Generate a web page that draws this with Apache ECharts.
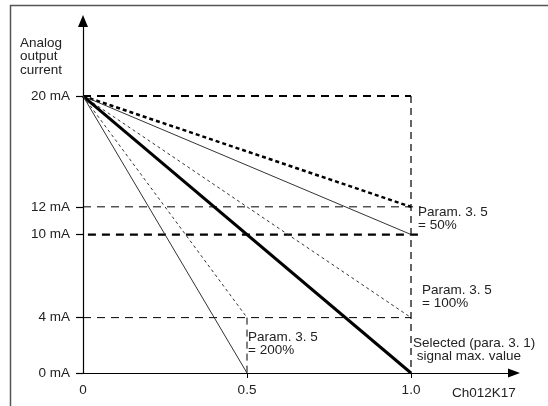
<!DOCTYPE html>
<html>
<head>
<meta charset="utf-8">
<script src="https://cdn.jsdelivr.net/npm/echarts@6/dist/echarts.min.js"></script>
<style>
  html, body { margin: 0; padding: 0; background: #fff; }
  #chart { width: 548px; height: 406px; }
</style>
</head>
<body>
<div id="chart"></div>
<script>
// tick values
var yTicks = [0, 4, 10, 12, 20];
var xTicks = [0, 0.5, 1.0];

// scaling lines, all starting at 20 mA
var p50Offset = [[0, 20], [1.0, 12]];
var p50 = [[0, 20], [1.0, 10]];
var p100Offset = [[0, 20], [1.0, 4]];
var p100 = [[0, 20], [1.0, 0]];
var p200Offset = [[0, 20], [0.5, 4]];
var p200 = [[0, 20], [0.5, 0]];

// guide lines
var guide20 = [[0, 20], [1.0, 20]];
var guideMax = [[1.0, 20], [1.0, 0]];
var guide12 = [[0, 12], [1.03, 12]];
var guide10 = [[0.015, 10], [1.03, 10]];
var guide4 = [[0, 4], [1.0, 4]];
var guideHalf = [[0.5, 4], [0.5, 0]];

var font = 'Liberation Sans, Arial, sans-serif';

function line(data, width, type, color) {
    return {
        type: 'line',
        data: data,
        symbol: 'none',
        silent: true,
        animation: false,
        clip: false,
        lineStyle: { width: width, type: type, color: color || '#000' }
    };
}

function label(x, y, text) {
    return {
        type: 'text',
        left: x,
        top: y,
        style: { text: text, font: '13.5px ' + font, fill: '#222', lineHeight: 13.5 }
    };
}

var chart = echarts.init(document.getElementById('chart'));
chart.setOption({
    backgroundColor: '#fff',
    animation: false,
    grid: { left: 83, right: 34, top: 21, bottom: 33 },
    xAxis: {
        type: 'value',
        min: 0,
        max: 1.314,
        axisLine: {
            show: true,
            symbol: ['none', 'triangle'],
            symbolSize: [9, 12],
            lineStyle: { color: '#000', width: 1.2 }
        },
        axisTick: {
            show: true,
            customValues: [0.5, 1.0],
            length: 5,
            lineStyle: { color: '#000' }
        },
        axisLabel: {
            customValues: xTicks,
            margin: 10,
            fontFamily: font,
            fontSize: 13.5,
            color: '#222',
            formatter: function (v) { return v === 1 ? '1.0' : String(v); }
        },
        splitLine: { show: false }
    },
    yAxis: {
        type: 'value',
        min: 0,
        max: 25.42,
        axisLine: {
            show: true,
            symbol: ['none', 'triangle'],
            symbolSize: [10, 12],
            lineStyle: { color: '#000', width: 1.2 }
        },
        axisTick: {
            show: true,
            customValues: yTicks,
            length: 7,
            lineStyle: { color: '#000', width: 1.2 }
        },
        axisLabel: {
            customValues: yTicks,
            margin: 13,
            fontFamily: font,
            fontSize: 13.5,
            color: '#222',
            formatter: '{value} mA'
        },
        splitLine: { show: false }
    },
    series: [
        line(guide20, 2, [8, 6]),
        line(guideMax, 1.2, [7, 5]),
        line(guide12, 1, [8, 6]),
        line(guide10, 2.2, [8, 6]),
        line(guide4, 1, [8, 6]),
        line(guideHalf, 1, [7, 5]),
        line(p50Offset, 2.5, [4, 3]),
        line(p50, 1, 'solid', '#333'),
        line(p100Offset, 1, [3, 3], '#333'),
        line(p100, 3, 'solid'),
        line(p200Offset, 1, [3, 3], '#333'),
        line(p200, 1, 'solid', '#333')
    ],
    graphic: [
        { type: 'line', shape: { x1: 10, y1: 5.5, x2: 548, y2: 5.5 }, style: { stroke: '#555', lineWidth: 1.5 } },
        { type: 'line', shape: { x1: 10.5, y1: 5, x2: 10.5, y2: 406 }, style: { stroke: '#555', lineWidth: 1.5 } },
        label(20, 36, 'Analog\noutput\ncurrent'),
        label(418, 205, 'Param. 3. 5\n= 50%'),
        label(422, 283, 'Param. 3. 5\n= 100%'),
        label(248, 330, 'Param. 3. 5\n= 200%'),
        label(413, 336, 'Selected (para. 3. 1)\n signal max. value'),
        label(452, 386, 'Ch012K17')
    ]
});
</script>
</body>
</html>
